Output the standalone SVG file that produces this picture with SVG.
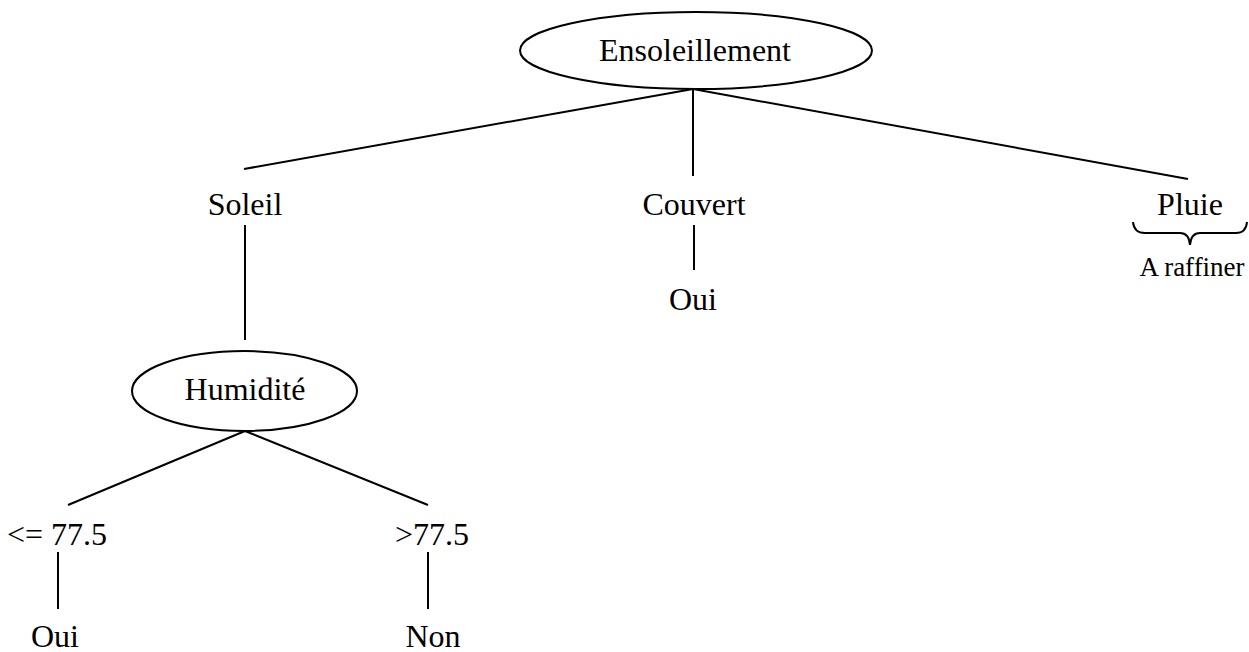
<svg xmlns="http://www.w3.org/2000/svg" width="1249" height="652" viewBox="0 0 1249 652">
<style>
.n{fill:#fff;stroke:#000;stroke-width:2}
.t{font-family:"Liberation Serif","Times New Roman","DejaVu Serif",serif;font-size:32px;fill:#000;text-anchor:middle}
.s{font-size:27px}
.c{stroke:#000;stroke-width:2;fill:none}
</style>
<rect width="1249" height="652" fill="#fff"/>
<g id="connectors">
<line class="c" x1="693" y1="89" x2="244" y2="169"/>
<line class="c" x1="693" y1="89" x2="693" y2="176"/>
<line class="c" x1="693" y1="89" x2="1188" y2="179"/>
<line class="c" x1="245" y1="225" x2="245" y2="340"/>
<line class="c" x1="694" y1="225" x2="694" y2="270"/>
<line class="c" x1="245" y1="431" x2="68" y2="505"/>
<line class="c" x1="245" y1="431" x2="428" y2="505"/>
<line class="c" x1="58" y1="552" x2="58" y2="609"/>
<line class="c" x1="428" y1="552" x2="428" y2="609"/>
</g>
<g id="ensoleillement">
<ellipse class="n" cx="696" cy="50.5" rx="176" ry="38.5"/>
<text class="t" x="695" y="61" font-family="Liberation Serif, serif">Ensoleillement</text>
</g>
<g id="soleil"><text class="t" x="245" y="215" font-family="Liberation Serif, serif">Soleil</text></g>
<g id="couvert"><text class="t" x="694" y="215" font-family="Liberation Serif, serif">Couvert</text></g>
<g id="pluie">
<text class="t" x="1190" y="215" font-family="Liberation Serif, serif">Pluie</text>
<path class="c" d="M1133,222 Q1134,233 1145,233 L1180,233 Q1189,233 1190,245 Q1191,233 1200,233 L1236,233 Q1246,233 1247,222" stroke-width="1.5"/>
<text class="t s" x="1192" y="276" font-family="Liberation Serif, serif">A raffiner</text>
</g>
<g id="oui-couvert"><text class="t" x="693" y="310" font-family="Liberation Serif, serif">Oui</text></g>
<g id="humidite">
<ellipse class="n" cx="244.5" cy="391" rx="112.5" ry="40"/>
<text class="t" x="245" y="400" font-family="Liberation Serif, serif">Humidité</text>
</g>
<g id="le775"><text class="t" x="57" y="545" font-family="Liberation Serif, serif">&lt;= 77.5</text></g>
<g id="gt775"><text class="t" x="432" y="545" font-family="Liberation Serif, serif">&gt;77.5</text></g>
<g id="oui"><text class="t" x="55" y="647" font-family="Liberation Serif, serif">Oui</text></g>
<g id="non"><text class="t" x="433" y="647" font-family="Liberation Serif, serif">Non</text></g>
</svg>
